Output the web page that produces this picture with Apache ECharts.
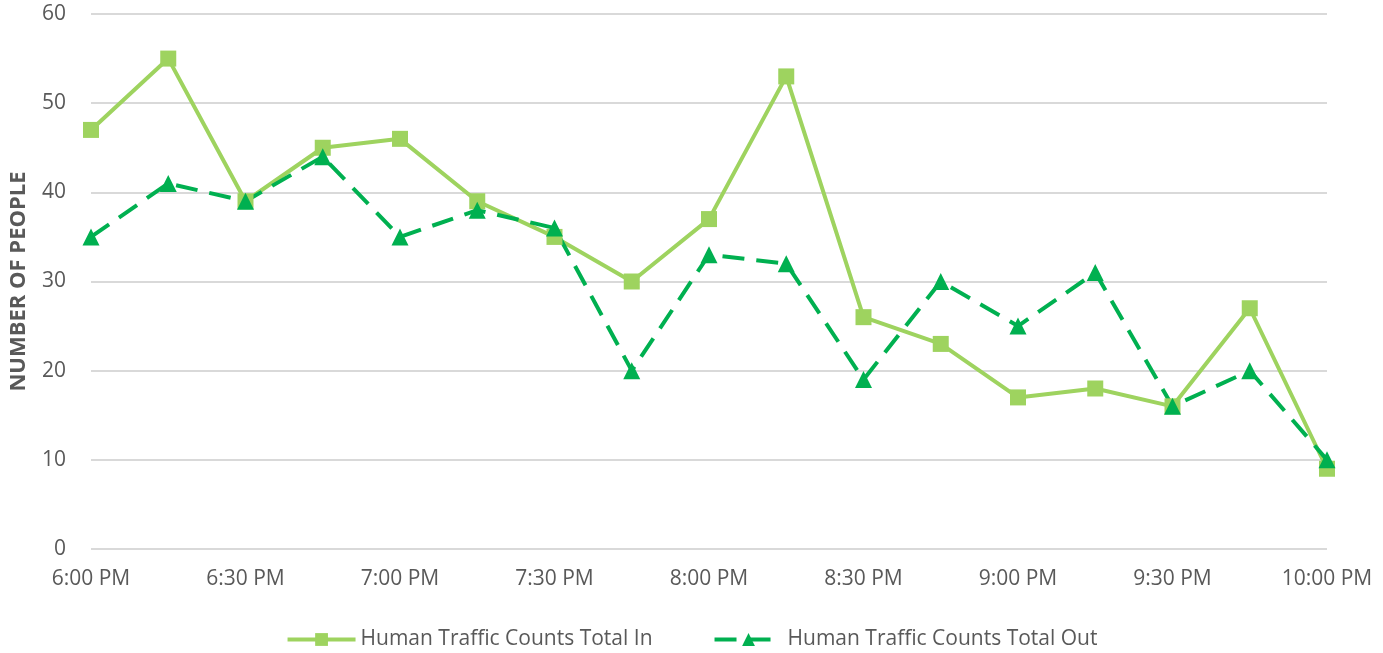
<!DOCTYPE html>
<html>
<head>
<meta charset="utf-8">
<script src="https://cdn.jsdelivr.net/npm/echarts@6/dist/echarts.min.js"></script>
<style>
  html, body { margin: 0; padding: 0; background: #fff; }
  #chart { width: 1383px; height: 653px; }
</style>
</head>
<body>
<div id="chart"></div>
<script>
// time slots, every 15 minutes
const times = [
  '6:00 PM', '6:15 PM', '6:30 PM', '6:45 PM', '7:00 PM', '7:15 PM', '7:30 PM', '7:45 PM',
  '8:00 PM', '8:15 PM', '8:30 PM', '8:45 PM', '9:00 PM', '9:15 PM', '9:30 PM', '9:45 PM', '10:00 PM'
];
const totalIn = [47, 55, 39, 45, 46, 39, 35, 30, 37, 53, 26, 23, 17, 18, 16, 27, 9];
const totalOut = [35, 41, 39, 44, 35, 38, 36, 20, 33, 32, 19, 30, 25, 31, 16, 20, 10];

const fontFamily = '"Open Sans", "Liberation Sans", sans-serif';

const chart = echarts.init(document.getElementById('chart'));

chart.setOption({
  animation: false,
  textStyle: { fontFamily },
  grid: { left: 90, right: 56, top: 14, bottom: 104 },
  legend: {
    bottom: -2,
    left: 'center',
    itemWidth: 68,
    itemHeight: 16,
    itemGap: 60,
    lineStyle: { width: 4 },
    textStyle: { color: '#595959', fontSize: 21, fontFamily }
  },
  xAxis: {
    type: 'category',
    data: times,
    boundaryGap: false,
    axisLine: { show: false },
    axisTick: { show: false },
    axisLabel: { interval: 1, color: '#595959', fontSize: 21, margin: 20 }
  },
  yAxis: {
    type: 'value',
    min: 0,
    max: 60,
    interval: 10,
    name: 'NUMBER OF PEOPLE',
    nameLocation: 'middle',
    nameGap: 61,
    nameTextStyle: { color: '#595959', fontSize: 22, fontWeight: 'bold' },
    axisLine: { show: false },
    axisTick: { show: false },
    axisLabel: { color: '#595959', fontSize: 21, margin: 25 },
    splitLine: { lineStyle: { color: '#d9d9d9', width: 2 } }
  },
  series: [
    {
      name: 'Human Traffic Counts Total In',
      type: 'line',
      data: totalIn,
      symbol: 'rect',
      symbolSize: 16,
      itemStyle: { color: '#9ed35f' },
      lineStyle: { color: '#9ed35f', width: 4 }
    },
    {
      name: 'Human Traffic Counts Total Out',
      type: 'line',
      data: totalOut,
      symbol: 'triangle',
      symbolSize: 17,
      itemStyle: { color: '#00b050' },
      lineStyle: { color: '#00b050', width: 4, type: [22, 12] }
    }
  ]
});
</script>
</body>
</html>
